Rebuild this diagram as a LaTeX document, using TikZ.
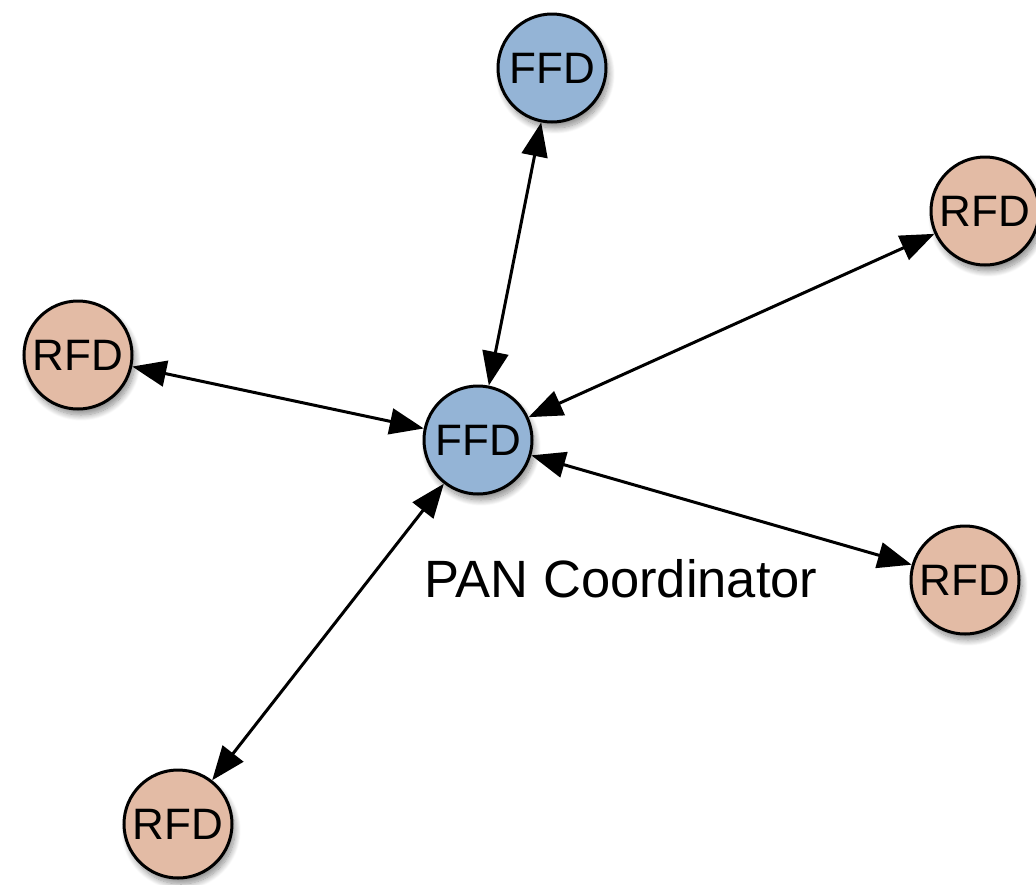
\documentclass[tikz,border=0pt]{standalone}
\usepackage{fontspec}
\setmainfont{Liberation Sans}
\usetikzlibrary{arrows.meta,shadows.blur}
\definecolor{ffdblue}{HTML}{94B4D6}
\definecolor{rfdpeach}{HTML}{E3BBA5}
\tikzset{
  dev/.style={circle,draw=black,line width=3pt,minimum size=108pt,inner sep=0pt,
    font=\fontsize{44}{52}\selectfont,
    blur shadow={shadow xshift=3pt,shadow yshift=-6pt,shadow blur steps=12,shadow blur radius=6pt,shadow opacity=45}},
  ffd/.style={dev,fill=ffdblue},
  rfd/.style={dev,fill=rfdpeach},
  link/.style={line width=3pt,{Triangle[length=34pt,width=26pt]}-{Triangle[length=34pt,width=26pt]}}
}
\begin{document}
\begin{tikzpicture}[x=1pt,y=-1pt]
\useasboundingbox (0,0) rectangle (1036,884);
\node[ffd] (c) at (478,440) {FFD};
\node[ffd] (t) at (552,68) {FFD};
\node[rfd] (rt) at (985,211) {RFD};
\node[rfd] (l) at (78,355) {RFD};
\node[rfd] (rb) at (965,580) {RFD};
\node[rfd] (b) at (178,824) {RFD};
\node[anchor=base,inner sep=0pt,font=\fontsize{52.5}{62}\selectfont] (lbl) at (621,597) {PAN Coordinator};
\draw[link] (c) -- (t);
\draw[link] (c) -- (rt);
\draw[link] (c) -- (l);
\draw[link] (c) -- (rb);
\draw[link] (c) -- (b);
\end{tikzpicture}
\end{document}
